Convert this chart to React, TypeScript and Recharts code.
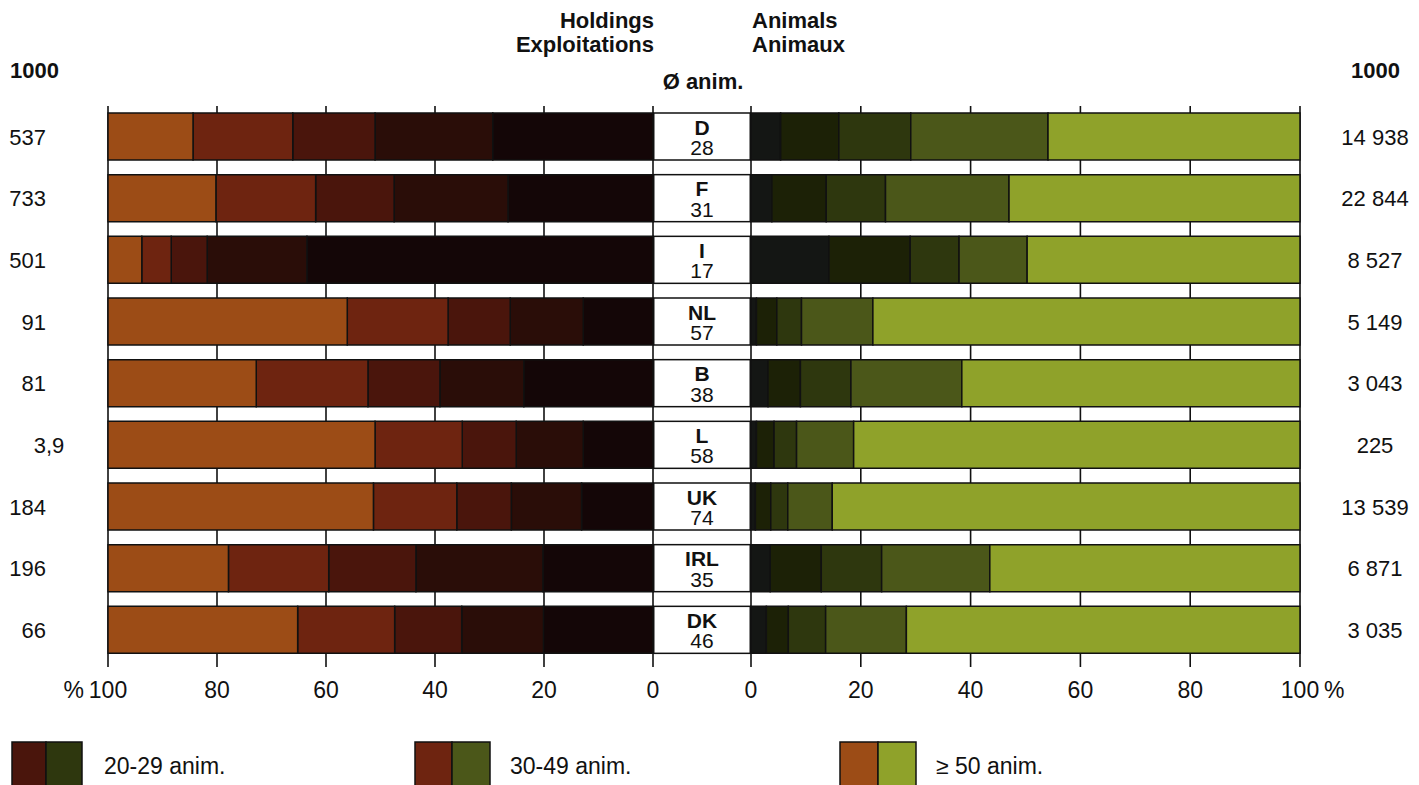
import React from "react";
import { BarChart, Bar, XAxis, YAxis, CartesianGrid } from "recharts";

// ---------- data ----------
const countries = ["D", "F", "I", "NL", "B", "L", "UK", "IRL", "DK"];
const avgAnimals = [28, 31, 17, 57, 38, 58, 74, 35, 46];
const holdingsTotal = ["537", "733", "501", "91", "81", "3,9", "184", "196", "66"];
const animalsTotal = ["14 938", "22 844", "8 527", "5 149", "3 043", "225", "13 539", "6 871", "3 035"];

const sizeClasses = ["1-9 anim.", "10-19 anim.", "20-29 anim.", "30-49 anim.", "\u2265 50 anim."];
const legendClassIdx = [2, 3, 4];

// holdings (%), by herd size class
const holdings1to9 = [29.4, 26.6, 63.5, 12.8, 23.7, 12.8, 13.1, 20.2, 20.1];
const holdings10to19 = [21.6, 20.9, 18.3, 13.4, 15.4, 12.3, 12.9, 23.3, 15.0];
const holdings20to29 = [15.1, 14.4, 6.6, 11.4, 13.2, 9.9, 10.0, 16.0, 12.3];
const holdings30to49 = [18.3, 18.3, 5.4, 18.5, 20.5, 16.0, 15.3, 18.4, 17.8];
const holdings50plus = [15.6, 19.8, 6.2, 43.9, 27.2, 49.0, 48.7, 22.1, 34.8];

// animals (%), by herd size class
const animals1to9 = [5.4, 3.8, 14.2, 1.0, 3.1, 1.0, 0.8, 3.5, 2.8];
const animals10to19 = [10.6, 9.9, 14.8, 3.7, 5.9, 3.2, 2.8, 9.3, 4.0];
const animals20to29 = [13.1, 10.8, 8.9, 4.5, 9.2, 4.1, 3.1, 11.0, 6.8];
const animals30to49 = [25.0, 22.5, 12.4, 13.0, 20.2, 10.4, 8.1, 19.7, 14.7];
const animals50plus = [45.9, 53.0, 49.7, 77.8, 61.6, 81.3, 85.2, 56.5, 71.7];

const holdingsSeries = [holdings1to9, holdings10to19, holdings20to29, holdings30to49, holdings50plus];
const animalsSeries = [animals1to9, animals10to19, animals20to29, animals30to49, animals50plus];

const holdingsColors = ["#140607", "#2a0d08", "#4a150c", "#6e2410", "#9c4c16"];
const animalsColors = ["#141614", "#1c2106", "#2e370e", "#4b5719", "#8fa22a"];

const xTicks = [0, 20, 40, 60, 80, 100];

const data = countries.map((country, i) => {
  const row: Record<string, number | string> = { country, avg: avgAnimals[i], box: 1 };
  holdingsSeries.forEach((s, k) => (row["h" + k] = s[i]));
  animalsSeries.forEach((s, k) => (row["a" + k] = s[i]));
  return row;
});

// ---------- layout ----------
const FONT = "'Liberation Sans', Arial, Helvetica, sans-serif";
const INK = "#111";
const BOTTOM_AXIS_H = 56;
const PLOT_BOTTOM = 661;
const CHART_H = PLOT_BOTTOM + BOTTOM_AXIS_H;
const TOP_MARGIN = 96;
const TOP_AXIS_H = 10;
const BAR_SIZE = 47;
const FS = 22;

const LeftYTick = (props: any) => {
  const { y, payload } = props;
  const i = countries.indexOf(payload.value);
  const parts = holdingsTotal[i].split(",");
  return (
    <g>
      <text x={46} y={y} dy="0.36em" textAnchor="end" fontFamily={FONT} fontSize={FS} fill={INK}>
        {parts[0]}
      </text>
      {parts.length > 1 && (
        <text x={46} y={y} dy="0.36em" textAnchor="start" fontFamily={FONT} fontSize={FS} fill={INK}>
          {"," + parts[1]}
        </text>
      )}
    </g>
  );
};

const RightYTick = (props: any) => {
  const { y, payload } = props;
  const i = countries.indexOf(payload.value);
  return (
    <text x={631} y={y} dy="0.36em" textAnchor="middle" fontFamily={FONT} fontSize={FS} fill={INK}>
      {animalsTotal[i]}
    </text>
  );
};

const makeXTick = (side: "left" | "right") => (props: any) => {
  const { x, y, payload } = props;
  const v = payload.value;
  return (
    <g>
      <text x={x} y={y} dy="0.71em" textAnchor="middle" fontFamily={FONT} fontSize={23} fill={INK}>
        {v}
      </text>
      {v === 100 && (
        <text
          x={side === "left" ? x - 24 : x + 24}
          y={y}
          dy="0.71em"
          textAnchor={side === "left" ? "end" : "start"}
          fontFamily={FONT}
          fontSize={23}
          fill={INK}
        >
          %
        </text>
      )}
    </g>
  );
};

const MiddleBox = (props: any) => {
  const { x, y, width, height, payload } = props;
  const cx = x + width / 2;
  const cy = y + height / 2;
  return (
    <g>
      <rect x={x + 0.75} y={y} width={width - 1.5} height={height} fill="#fff" stroke={INK} strokeWidth={1.5} />
      <text x={cx} y={cy - 2} textAnchor="middle" fontFamily={FONT} fontWeight="bold" fontSize={21} fill={INK}>
        {payload.country}
      </text>
      <text x={cx} y={cy + 18.5} textAnchor="middle" fontFamily={FONT} fontSize={21} fill={INK}>
        {payload.avg}
      </text>
    </g>
  );
};

const LeftXTick = makeXTick("left");
const RightXTick = makeXTick("right");

export default function App() {
  const legendBoxes = [
    { x0: 12, xm: 46, x1: 82, tx: 104 },
    { x0: 415, xm: 452, x1: 490, tx: 510 },
    { x0: 840, xm: 878, x1: 916, tx: 936 },
  ];
  return (
    <div
      style={{
        position: "absolute",
        left: 0,
        top: 0,
        width: 1419,
        height: 785,
        overflow: "hidden",
        background: "#fff",
        fontFamily: FONT,
      }}
    >
      {/* middle column: country code and average herd size */}
      <div style={{ position: "absolute", left: 653, top: 0 }}>
        <BarChart
          width={98}
          height={CHART_H}
          data={data}
          layout="vertical"
          margin={{ top: TOP_MARGIN + TOP_AXIS_H, bottom: BOTTOM_AXIS_H, left: 0, right: 0 }}
          barSize={BAR_SIZE}
        >
          <XAxis type="number" domain={[0, 1]} hide />
          <YAxis type="category" dataKey="country" hide />
          <Bar dataKey="box" isAnimationActive={false} shape={<MiddleBox />} />
        </BarChart>
      </div>

      {/* left: holdings */}
      <div style={{ position: "absolute", left: 0, top: 0 }}>
        <BarChart
          width={660}
          height={CHART_H}
          data={data}
          layout="vertical"
          margin={{ top: TOP_MARGIN, bottom: 0, left: 0, right: 7 }}
          barSize={BAR_SIZE}
        >
          <CartesianGrid horizontal={false} vertical stroke={INK} strokeWidth={1.6} />
          <XAxis
            type="number"
            domain={[0, 100]}
            ticks={xTicks}
            reversed
            height={BOTTOM_AXIS_H}
            axisLine={false}
            tickSize={6}
            tickMargin={15}
            tickLine={{ stroke: INK, strokeWidth: 1.6 }}
            tick={<LeftXTick />}
            interval={0}
          />
          <XAxis
            xAxisId="top"
            orientation="top"
            type="number"
            domain={[0, 100]}
            ticks={xTicks}
            reversed
            height={TOP_AXIS_H}
            axisLine={false}
            tickSize={9}
            tickLine={{ stroke: INK, strokeWidth: 1.6 }}
            tick={false}
            interval={0}
          />
          <YAxis type="category" dataKey="country" width={108} axisLine={false} tickLine={false} tick={<LeftYTick />} />
          {holdingsSeries.map((_, k) => (
            <Bar
              key={"h" + k}
              dataKey={"h" + k}
              name={sizeClasses[k]}
              stackId="h"
              fill={holdingsColors[k]}
              stroke={INK}
              strokeWidth={1.5}
              isAnimationActive={false}
            />
          ))}
        </BarChart>
      </div>

      {/* right: animals */}
      <div style={{ position: "absolute", left: 744, top: 0 }}>
        <BarChart
          width={675}
          height={CHART_H}
          data={data}
          layout="vertical"
          margin={{ top: TOP_MARGIN, bottom: 0, left: 7, right: 0 }}
          barSize={BAR_SIZE}
        >
          <CartesianGrid horizontal={false} vertical stroke={INK} strokeWidth={1.6} />
          <XAxis
            type="number"
            domain={[0, 100]}
            ticks={xTicks}
            height={BOTTOM_AXIS_H}
            axisLine={false}
            tickSize={6}
            tickMargin={15}
            tickLine={{ stroke: INK, strokeWidth: 1.6 }}
            tick={<RightXTick />}
            interval={0}
          />
          <XAxis
            xAxisId="top"
            orientation="top"
            type="number"
            domain={[0, 100]}
            ticks={xTicks}
            height={TOP_AXIS_H}
            axisLine={false}
            tickSize={9}
            tickLine={{ stroke: INK, strokeWidth: 1.6 }}
            tick={false}
            interval={0}
          />
          <YAxis
            type="category"
            dataKey="country"
            orientation="right"
            width={119}
            axisLine={false}
            tickLine={false}
            tick={<RightYTick />}
          />
          {animalsSeries.map((_, k) => (
            <Bar
              key={"a" + k}
              dataKey={"a" + k}
              name={sizeClasses[k]}
              stackId="a"
              fill={animalsColors[k]}
              stroke={INK}
              strokeWidth={1.5}
              isAnimationActive={false}
            />
          ))}
        </BarChart>
      </div>

      {/* headers and legend */}
      <svg width={1419} height={785} style={{ position: "absolute", left: 0, top: 0, pointerEvents: "none" }}>
        <g fontFamily={FONT} fontWeight="bold" fontSize={22} fill={INK}>
          <text x={654} y={28} textAnchor="end">Holdings</text>
          <text x={654} y={52} textAnchor="end">Exploitations</text>
          <text x={752} y={28} textAnchor="start">Animals</text>
          <text x={752} y={52} textAnchor="start">Animaux</text>
          <text x={10} y={78} textAnchor="start">1000</text>
          <text x={1400} y={78} textAnchor="end">1000</text>
          <text x={703} y={89} textAnchor="middle">Ø anim.</text>
        </g>
        {legendClassIdx.map((k, j) => {
          const b = legendBoxes[j];
          return (
            <g key={k}>
              <rect x={b.x0} y={742} width={b.xm - b.x0} height={60} fill={holdingsColors[k]} stroke={INK} strokeWidth={1.5} />
              <rect x={b.xm} y={742} width={b.x1 - b.xm} height={60} fill={animalsColors[k]} stroke={INK} strokeWidth={1.5} />
              <text x={b.tx} y={774} fontFamily={FONT} fontSize={23} fill={INK}>
                {sizeClasses[k]}
              </text>
            </g>
          );
        })}
      </svg>
    </div>
  );
}
